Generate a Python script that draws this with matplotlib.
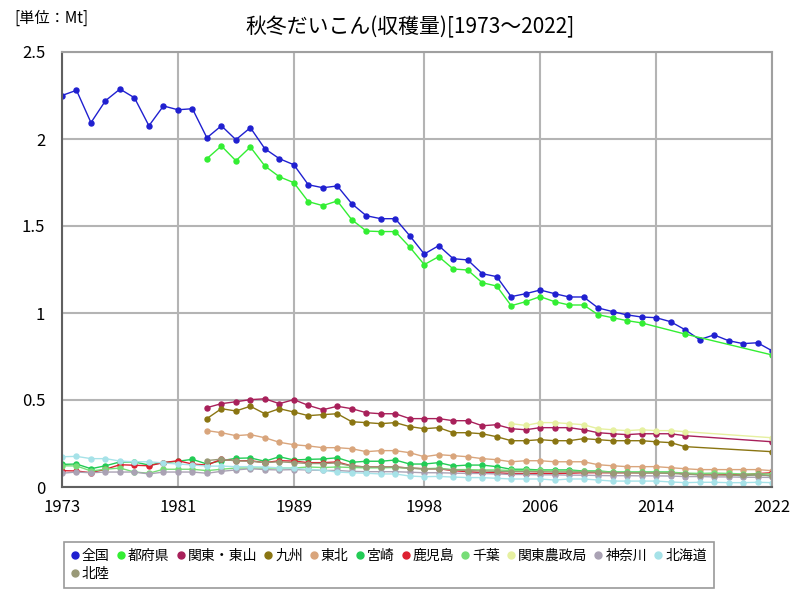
import numpy as np
import matplotlib
matplotlib.use("Agg")
import matplotlib.pyplot as plt
from matplotlib.lines import Line2D

plt.rcParams['font.family'] = ['Noto Sans CJK JP', 'DejaVu Sans']

nan = np.nan
years = list(range(1973, 2023))

zenkoku = [2.25, 2.28, 2.094, 2.22, 2.287, 2.237, 2.076, 2.19, 2.168, 2.174,
           2.007, 2.076, 1.996, 2.065, 1.944, 1.887, 1.852, 1.737, 1.72, 1.73,
           1.628, 1.559, 1.542, 1.542, 1.444, 1.339, 1.387, 1.312, 1.305, 1.226,
           1.209, 1.094, 1.111, 1.132, 1.111, 1.092, 1.092, 1.029, 1.008, 0.989,
           0.977, 0.973, 0.950, 0.904, 0.847, 0.874, 0.841, 0.824, 0.829, 0.783]
todofuken = [nan] * 10 + [1.887, 1.96, 1.875, 1.954, 1.845, 1.783, 1.749, 1.64, 1.617, 1.644,
             1.536, 1.471, 1.468, 1.468, 1.379, 1.278, 1.324, 1.253, 1.247, 1.174,
             1.155, 1.042, 1.065, 1.094, 1.065, 1.046, 1.046, 0.990, 0.973, 0.956,
             0.943, nan, nan, 0.879] + [nan] * 5 + [0.759]
kanto_tosan = [nan] * 10 + [0.456, 0.479, 0.490, 0.502, 0.507, 0.479, 0.502, 0.469, 0.444, 0.464,
               0.450, 0.427, 0.421, 0.421, 0.393, 0.393, 0.393, 0.381, 0.381, 0.352,
               0.358, 0.335, 0.329, 0.341, 0.341, 0.341, 0.329, 0.312, 0.306, 0.301,
               0.306, 0.306, 0.306, 0.295] + [nan] * 5 + [0.260]
kyushu = [nan] * 10 + [0.393, 0.450, 0.437, 0.464, 0.421, 0.450, 0.431, 0.410, 0.416, 0.421,
          0.375, 0.370, 0.364, 0.370, 0.347, 0.335, 0.341, 0.312, 0.312, 0.306,
          0.289, 0.266, 0.266, 0.272, 0.266, 0.266, 0.278, 0.272, 0.266, 0.266,
          0.266, 0.260, 0.255, 0.232] + [nan] * 5 + [0.203]
tohoku = [nan] * 10 + [0.324, 0.312, 0.295, 0.301, 0.283, 0.257, 0.243, 0.236, 0.226, 0.226,
          0.220, 0.203, 0.209, 0.209, 0.197, 0.174, 0.186, 0.180, 0.174, 0.163,
          0.157, 0.145, 0.151, 0.151, 0.145, 0.145, 0.145, 0.128, 0.122, 0.117,
          0.117, 0.117, 0.111, 0.105, 0.100, 0.100, 0.100, 0.100, 0.100, 0.094]
miyazaki = [0.130, 0.132, 0.105, 0.122, 0.144, 0.144, 0.126, 0.140, 0.148, 0.159,
            0.132, 0.151, 0.165, 0.167, 0.148, 0.174, 0.155, 0.159, 0.161, 0.168,
            0.142, 0.148, 0.148, 0.155, 0.132, 0.132, 0.140, 0.121, 0.126, 0.126,
            0.117, 0.102, 0.102, 0.098, 0.098, 0.098, 0.092, 0.092, 0.086, 0.086,
            0.086, 0.086, 0.086, 0.073, 0.073, 0.073, 0.073, 0.063, 0.073, 0.063]
kagoshima = [0.094, 0.092, 0.082, 0.102, 0.128, 0.125, 0.122, 0.140, 0.151, 0.132,
             0.126, 0.159, 0.151, 0.151, 0.140, 0.151, 0.149, 0.140, 0.140, 0.144,
             0.121, 0.115, 0.115, 0.115, 0.109, 0.105, 0.105, 0.094, 0.088, 0.082,
             0.082, 0.077, 0.077, 0.079, 0.077, 0.079, 0.082, 0.082, 0.082, 0.082,
             0.082, 0.082, 0.082, 0.077, 0.071, 0.071, 0.071, 0.071, 0.077, 0.082]
chiba = [0.122, 0.121, 0.092, 0.102, 0.109, 0.086, 0.079, 0.102, 0.102, 0.102,
         0.094, 0.102, 0.109, 0.109, 0.109, 0.109, 0.109, 0.115, 0.112, 0.115,
         0.112, 0.110, 0.110, 0.112, 0.108, 0.105, 0.108, 0.100, 0.100, 0.098,
         0.098, 0.095, 0.095, 0.095, 0.092, 0.092, 0.090, 0.090, 0.085, 0.085,
         0.085, 0.085, 0.085, 0.080, 0.078, 0.080, 0.078, 0.075, 0.075, 0.075]
kanto_noseikyoku = [nan] * 31 + [0.364, 0.354, 0.370, 0.370, 0.364, 0.358, 0.335, 0.329, 0.324,
                    0.329, 0.324, 0.324, 0.318] + [nan] * 5 + [0.283]
kanagawa = [0.079, 0.086, 0.082, 0.086, 0.086, 0.086, 0.075, 0.086, 0.086, 0.086,
            0.079, 0.090, 0.098, 0.105, 0.100, 0.098, 0.100, 0.098, 0.095, 0.095,
            0.090, 0.088, 0.088, 0.088, 0.085, 0.082, 0.082, 0.080, 0.078, 0.078,
            0.075, 0.072, 0.072, 0.070, 0.070, 0.068, 0.068, 0.066, 0.065, 0.065,
            0.064, 0.064, 0.063, 0.060, 0.060, 0.058, 0.058, 0.056, 0.056, 0.055]
hokkaido = [0.174, 0.176, 0.163, 0.163, 0.149, 0.145, 0.145, 0.138, 0.132, 0.127,
            0.120, 0.120, 0.117, 0.117, 0.115, 0.110, 0.108, 0.102, 0.096, 0.086,
            0.082, 0.079, 0.075, 0.075, 0.063, 0.059, 0.061, 0.057, 0.054, 0.054,
            0.050, 0.046, 0.046, 0.046, 0.040, 0.046, 0.046, 0.040, 0.034, 0.034,
            0.034, 0.034, 0.029, 0.025, 0.027, 0.027, 0.025, 0.025, 0.027, 0.025]
hokuriku = [nan] * 10 + [0.152, 0.160, 0.150, 0.148, 0.140, 0.145, 0.140, 0.135, 0.135, 0.138,
            0.120, 0.115, 0.115, 0.115, 0.108, 0.104, 0.104, 0.098, 0.094, 0.092,
            0.090, 0.088, 0.088, 0.088, 0.086, 0.086, 0.086, 0.085, 0.082, 0.082,
            0.080, 0.080, 0.078, 0.074, 0.070, 0.070, 0.068, 0.068, 0.068, 0.066]

names = ['全国', '都府県', '関東・東山', '九州', '東北', '宮崎', '鹿児島', '千葉',
         '関東農政局', '神奈川', '北海道', '北陸']
series = [zenkoku, todofuken, kanto_tosan, kyushu, tohoku, miyazaki, kagoshima,
          chiba, kanto_noseikyoku, kanagawa, hokkaido, hokuriku]
colors = ['#2020d0', '#33ee33', '#a8205a', '#8a7512', '#d9a57c', '#22cc55',
          '#dd2030', '#77dd77', '#e6f0a0', '#aaa2b4', '#a6e2e8', '#999977']

fig = plt.figure(figsize=(8, 6), dpi=100)
ax = fig.add_axes([62 / 800, 1 - 487 / 600, 710 / 800, 435 / 600])

x_all = np.array(years)
for name, vals, c in zip(names, series, colors):
    v = np.array(vals, dtype=float)
    ok = ~np.isnan(v)
    ax.plot(x_all[ok], v[ok], color=c, lw=1, marker='o', markersize=3.6, label=name)

ax.set_xlim(1973, 2022)
ax.set_ylim(0, 2.5)
ax.set_xticks([1973, 1981, 1989, 1998, 2006, 2014, 2022])
ax.set_yticks([0, 0.5, 1, 1.5, 2, 2.5])
ax.set_yticklabels(['0', '0.5', '1', '1.5', '2', '2.5'])
ax.tick_params(length=0, labelsize=12)
ax.tick_params(axis='x', pad=9)
ax.tick_params(axis='y', pad=12)
ax.grid(True, color='#b4b4b4', lw=1.5)
ax.set_axisbelow(True)
for s in ['top', 'right']:
    ax.spines[s].set_color('#a0a0a0')
    ax.spines[s].set_linewidth(1.5)
for s in ['left', 'bottom']:
    ax.spines[s].set_color('#606060')
    ax.spines[s].set_linewidth(1.5)

fig.text(410 / 800, 1 - 27 / 600, '秋冬だいこん(収穫量)[1973〜2022]', ha='center', va='center',
         fontsize=15)
fig.text(14 / 800, 1 - 18 / 600, '[単位：Mt]', ha='left', va='center', fontsize=11)

# legend: put 北陸 second so it lands under 全国
order = [0, 11] + list(range(1, 11))
handles = [Line2D([], [], ls='none', marker='o', markersize=5, color=colors[i]) for i in order]
labels = [names[i] for i in order]
leg = fig.legend(handles, labels, loc='upper left', bbox_to_anchor=(57 / 800, 1 - 535 / 600),
                 ncol=11, fontsize=10, frameon=True, fancybox=False, handlelength=0.6,
                 handletextpad=0.2, columnspacing=0.5, borderpad=0.5, labelspacing=0.3)
leg.get_frame().set_edgecolor('#808080')
leg.get_frame().set_linewidth(1.2)

fig.savefig('out.png', dpi=100)
